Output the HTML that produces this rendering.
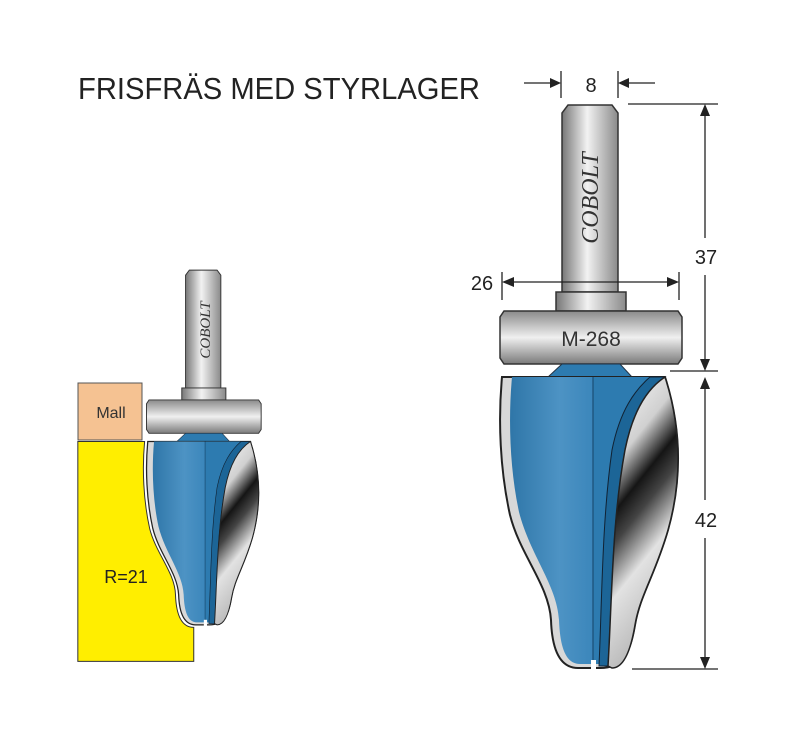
<!DOCTYPE html>
<html><head><meta charset="utf-8"><style>html,body{margin:0;padding:0;background:#fff}svg{display:block}</style></head>
<body>
<svg width="800" height="738" viewBox="0 0 800 738" xmlns="http://www.w3.org/2000/svg" font-family="Liberation Sans, sans-serif">
<defs>
<linearGradient id="sh" x1="0" x2="1" y1="0" y2="0"><stop offset="0" stop-color="#777"/><stop offset=".45" stop-color="#f2f2f2"/><stop offset="1" stop-color="#8a8a8a"/></linearGradient>
<linearGradient id="br" x1="0" x2="0" y1="0" y2="1"><stop offset="0" stop-color="#8a8a8a"/><stop offset=".5" stop-color="#f0f0f0"/><stop offset="1" stop-color="#7a7a7a"/></linearGradient>
<linearGradient id="ch" x1="0" x2="0.3" y1="0" y2="1"><stop offset="0" stop-color="#fff"/><stop offset=".3" stop-color="#d0d0d0"/><stop offset=".45" stop-color="#151515"/><stop offset=".55" stop-color="#444"/><stop offset=".72" stop-color="#e2e2e2"/><stop offset="1" stop-color="#b5b5b5"/></linearGradient>
<linearGradient id="bl" x1="0" x2="1"><stop offset="0" stop-color="#2f76a8"/><stop offset=".6" stop-color="#4d93c4"/><stop offset="1" stop-color="#3b86bb"/></linearGradient>
<g id="cut">
 <path d="M562,292 L562,113 L568,105 L612,105 L618,113 L618,292 Z" fill="url(#sh)" stroke="#333" stroke-width="1.5"/>
 <rect x="556" y="292" width="70" height="19" fill="url(#sh)" stroke="#333" stroke-width="1.5"/>
 <path d="M504,311 L678,311 L682,317 L682,358 L678,364 L504,364 L500,358 L500,317 Z" fill="url(#br)" stroke="#333" stroke-width="1.5"/>
 <path d="M548,377 L632,377 L620,364 L562,364 Z" fill="#2d7bb0" stroke="#234" stroke-width="1"/>
 <path d="M502,377 L665,377 C682,430 682,480 668,530 C655,575 640,595 635,625 C630,655 622,668 600,668 L578,668 C560,668 552,650 551,620 C549,585 520,555 510,515 C500,470 498,420 502,377 Z" fill="#d8d8d8" stroke="#222" stroke-width="2"/>
 <path d="M512,377 L593,377 L593,664 L580,664 C566,664 560,648 559,620 C557,585 530,555 519,512 C510,470 508,420 512,377 Z" fill="url(#bl)"/>
 <path d="M593,377 L652,377 C632,395 620,420 614,450 C604,520 604,600 600,664 L593,664 Z" fill="#2d7bb0"/>
 <path d="M650,377 L665,377 C645,390 632,415 625,450 C612,520 612,600 608,666 L599,666 C602,600 602,520 612,450 C620,410 635,390 650,377 Z" fill="#1c6597" stroke="#123" stroke-width="1"/>
 <path d="M665,377 C682,430 682,480 668,530 C655,575 640,595 635,625 C630,655 622,668 612,668 L608,666 C612,600 612,520 625,450 C632,415 645,390 665,377 Z" fill="url(#ch)" stroke="#222" stroke-width="1.5"/>
 <line x1="593" y1="377" x2="593" y2="664" stroke="#1a4f75" stroke-width="1.2"/>
 <rect x="591" y="660" width="5" height="10" fill="#fff"/>
</g>
</defs>

<text x="78" y="99" font-size="31" fill="#222" textLength="402" lengthAdjust="spacingAndGlyphs">FRISFRÄS MED STYRLAGER</text>

<!-- small assembly -->
<g transform="translate(-168.5,204) scale(0.63)">
 <path d="M391,377 L497,377 C493,420 495,470 505,515 C515,555 545,585 546,620 C547,650 555,672 575,672 L575,726 L391,726 Z" fill="#ffee00" stroke="#333" stroke-width="1.6"/>
 <use href="#cut"/>
</g>
<rect x="78" y="383" width="64" height="57" fill="#f5c292" stroke="#555" stroke-width="1"/>
<text x="111" y="418" font-size="16" fill="#333" text-anchor="middle">Mall</text>
<text x="126" y="583" font-size="18" fill="#222" text-anchor="middle">R=21</text>
<text transform="translate(210,330) rotate(-90)" font-family="Liberation Serif, serif" font-style="italic" font-size="15" fill="#333" text-anchor="middle">COBOLT</text>

<!-- big assembly -->
<use href="#cut"/>
<text transform="translate(598,198) rotate(-90)" font-family="Liberation Serif, serif" font-style="italic" font-size="24" fill="#333" text-anchor="middle">COBOLT</text>
<text x="591" y="346" font-size="21" fill="#333" text-anchor="middle">M-268</text>

<!-- dimensions -->
<g stroke="#222" stroke-width="1.3" fill="none">
 <line x1="561" y1="71" x2="561" y2="98"/><line x1="618" y1="71" x2="618" y2="98"/>
 <line x1="524" y1="83" x2="552" y2="83"/><line x1="627" y1="83" x2="655" y2="83"/>
 <line x1="628" y1="104" x2="718" y2="104"/><line x1="670" y1="371" x2="718" y2="371"/><line x1="632" y1="669" x2="718" y2="669"/>
 <line x1="705" y1="112" x2="705" y2="238"/><line x1="705" y1="275" x2="705" y2="362"/>
 <line x1="705" y1="386" x2="705" y2="500"/><line x1="705" y1="538" x2="705" y2="660"/>
 <line x1="502" y1="272" x2="502" y2="300"/><line x1="679" y1="272" x2="679" y2="300"/>
 <line x1="510" y1="282" x2="671" y2="282"/>
</g>
<g fill="#222">
 <path d="M561,83 L550,78 L550,88 Z"/><path d="M618,83 L629,78 L629,88 Z"/>
 <path d="M705,104 L700,116 L710,116 Z"/><path d="M705,371 L700,359 L710,359 Z"/>
 <path d="M705,377 L700,389 L710,389 Z"/><path d="M705,669 L700,657 L710,657 Z"/>
 <path d="M502,282 L514,277 L514,287 Z"/><path d="M679,282 L667,277 L667,287 Z"/>
</g>
<text x="591" y="92" font-size="20" fill="#222" text-anchor="middle">8</text>
<text x="706" y="264" font-size="20" fill="#222" text-anchor="middle">37</text>
<text x="706" y="527" font-size="20" fill="#222" text-anchor="middle">42</text>
<text x="482" y="290" font-size="20" fill="#222" text-anchor="middle">26</text>
</svg>
</body></html>
